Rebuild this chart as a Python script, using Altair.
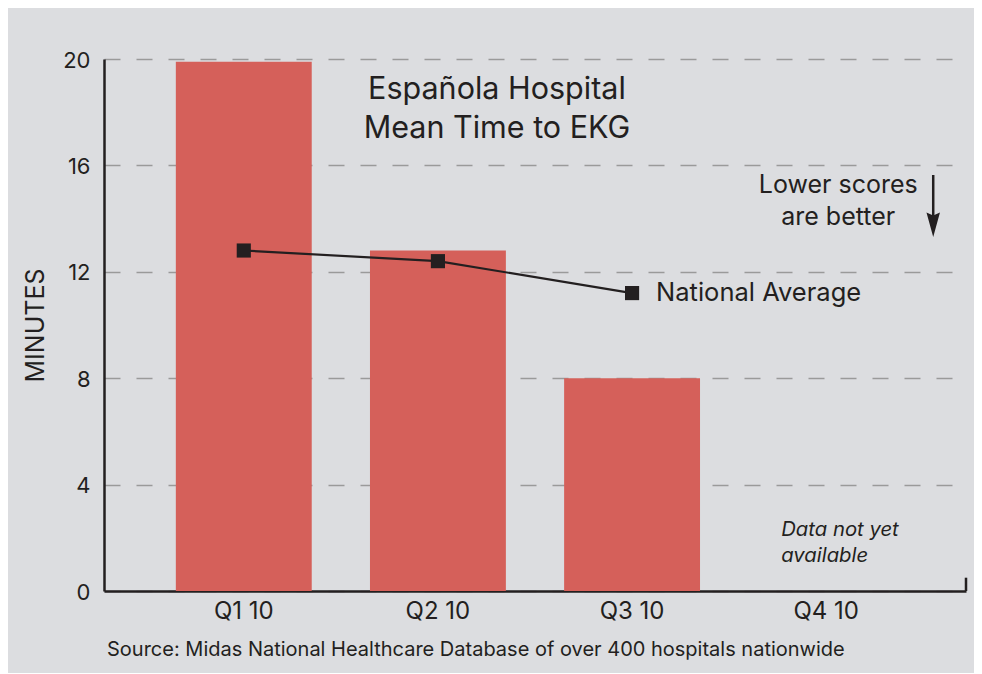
import altair as alt
import pandas as pd

quarters = ["Q1 10", "Q2 10", "Q3 10", "Q4 10"]
hospital = [19.9, 12.8, 8.0, None]
national = [12.8, 12.4, 11.2, None]

FONT = "Inter"
INK = "#231f20"
BG = "#dcdde0"
BAR = "#d5605a"

bars_df = pd.DataFrame({"q": quarters[:3], "v": hospital[:3]})
nat_df = pd.DataFrame({"q": quarters[:3], "v": national[:3]})

xscale = alt.Scale(domain=quarters, paddingInner=0.3, paddingOuter=0.37)
yscale = alt.Scale(domain=[0, 20], nice=False)

x_enc = alt.X("q:N", scale=xscale, sort=quarters,
              axis=alt.Axis(title=None, labelFontSize=24, labelFont=FONT, labelColor=INK,
                            labelAngle=0, labelPadding=8, ticks=False, domainColor=INK,
                            domainWidth=2.5))
y_enc = alt.Y("v:Q", scale=yscale,
              axis=alt.Axis(title="MINUTES", titleFontSize=25, titleFont=FONT,
                            titleFontWeight="normal", titleColor=INK, titlePadding=14,
                            values=[0, 4, 8, 12, 16, 20], labelFontSize=22, labelFont=FONT,
                            labelColor=INK, labelPadding=14, ticks=False,
                            domainColor=INK, domainWidth=2.5, gridColor="#9a9a9a",
                            gridDash=[16, 16], gridWidth=1.5, labelBaseline="top",
                            labelOffset=-9))

bars = alt.Chart(bars_df).mark_bar(color=BAR).encode(x=x_enc, y=y_enc)

line = alt.Chart(nat_df).mark_line(color=INK, strokeWidth=2.2).encode(
    x=alt.X("q:N", scale=xscale, sort=quarters), y=alt.Y("v:Q", scale=yscale))
pts = alt.Chart(nat_df).mark_point(shape="square", filled=True, size=200,
                                     color=INK, opacity=1).encode(
    x=alt.X("q:N", scale=xscale, sort=quarters), y=alt.Y("v:Q", scale=yscale))

def label(text, q, y, dx, size, align="center", style="normal"):
    return alt.Chart(pd.DataFrame({"t": [text]})).mark_text(
        fontSize=size, font=FONT, color=INK, align=align, baseline="middle",
        xOffset=dx, fontStyle=style).encode(
        x=alt.datum(q, scale=xscale), y=alt.datum(y, scale=yscale), text="t:N")

texts = [
    label("Española Hospital", "Q2 10", 18.85, 59, 30.5),
    label("Mean Time to EKG", "Q2 10", 17.35, 59, 30.5),
    label("Lower scores", "Q4 10", 15.27, 12, 25),
    label("are better", "Q4 10", 14.07, 12, 25),
    label("National Average", "Q3 10", 11.2, 24, 25.5, align="left"),
    label("Data not yet", "Q4 10", 2.3, -45, 20.3, align="left", style="italic"),
    label("available", "Q4 10", 1.33, -45, 20.3, align="left", style="italic"),
]

arrow_df = pd.DataFrame({"q": ["Q4 10"], "y1": [15.64], "y2": [14.0], "h": [13.77]})
arrow_line = alt.Chart(arrow_df).mark_rule(color=INK, strokeWidth=2.5, xOffset=107).encode(
    x=alt.X("q:N", scale=xscale, sort=quarters),
    y=alt.Y("y1:Q", scale=yscale), y2="y2:Q")
arrow_head = alt.Chart(arrow_df).mark_point(
    shape="M-0.55,-1L0,-0.75L0.55,-1L0,1Z", filled=True, size=600, color=INK,
    opacity=1, xOffset=107).encode(
    x=alt.X("q:N", scale=xscale, sort=quarters), y=alt.Y("h:Q", scale=yscale))

end_df = pd.DataFrame({"y1": [0], "y2": [0.5]})
end_tick = alt.Chart(end_df).mark_rule(color=INK, strokeWidth=2.5).encode(
    x=alt.value(862), y=alt.Y("y1:Q", scale=yscale), y2="y2:Q")

chart = alt.layer(bars, line, pts, *texts, arrow_line, arrow_head, end_tick).properties(
    width=862, height=532,
    autosize=alt.AutoSizeParams(type="none"),
    padding={"left": 96, "top": 51, "right": 8, "bottom": 82},
    background=BG,
    title=alt.TitleParams(
        "Source: Midas National Healthcare Database of over 400 hospitals nationwide",
        orient="bottom", anchor="start", frame="group", fontSize=20, font=FONT,
        fontWeight="normal", color=INK, offset=17, dx=3),
).configure_view(stroke=None).configure_axisX(grid=False)

chart.save("out.html", embed_options={"renderer": "svg", "actions": False})
